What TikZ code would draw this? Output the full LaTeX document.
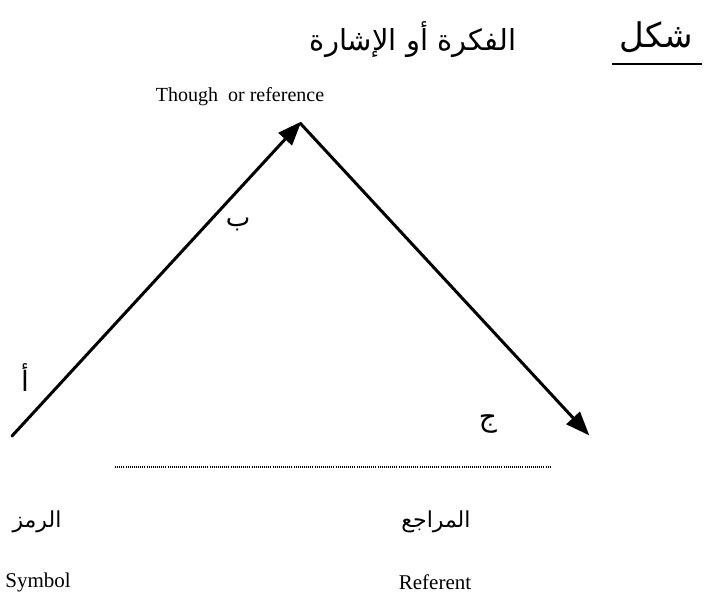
\documentclass[tikz,border=0pt]{standalone}
\usepackage{fontspec}
\setmainfont{Liberation Serif}
\newfontfamily\arabicfont[Script=Arabic]{DejaVu Sans}
\TeXXeTstate=1
\usetikzlibrary{arrows.meta}
\tikzset{
  ar/.style={font=\arabicfont\fontsize{#1}{#1}\selectfont, inner sep=0pt, anchor=center},
  en/.style={font=\fontsize{#1}{#1}\selectfont, inner sep=0pt, anchor=center},
  edge/.style={line width=3pt, -{Triangle[length=24pt,width=18pt]}, shorten >=-2pt},
  dots/.style={line width=1.2pt, dash pattern=on 1pt off 1.1pt}
}
\begin{document}
\begin{tikzpicture}[x=1pt,y=-1pt]
\useasboundingbox (0,0) rectangle (707,601);
% title
\node[ar=29] (title) at (413,40) {\beginR الفكرة أو الإشارة\endR};
\node[ar=34] (shakl) at (656,37) {\beginR شكل\endR};
\draw[line width=2pt] (612,64) coordinate (ul1) -- (702,64) coordinate (ul2);
\node[en=20] (thought) at (240,97) {Though\ \ or reference};
% triangle
\coordinate (sym) at (12,436);
\coordinate (apex) at (300,123);
\coordinate (refp) at (588,434);
\draw[edge, line cap=round] (sym) -- (apex);
\draw[edge] (apex) -- (refp);
% letter labels
\node[ar=26] (b) at (238,224) {\beginR ب\endR};
\node[ar=28] (a) at (25,378) {\beginR أ\endR};
\node[ar=28] (j) at (488,424) {\beginR ج\endR};
% dotted baseline
\coordinate (d1) at (115,467);
\coordinate (d2) at (550,467);
\draw[dots] (d1) -- (d2);
% bottom labels
\node[ar=22] (ramz) at (37,522) {\beginR الرمز\endR};
\node[en=21] (symbol) at (38,582) {Symbol};
\node[ar=22] (maraji) at (436,522) {\beginR المراجع\endR};
\node[en=21] (referent) at (435,582) {Referent};
\end{tikzpicture}
\end{document}
